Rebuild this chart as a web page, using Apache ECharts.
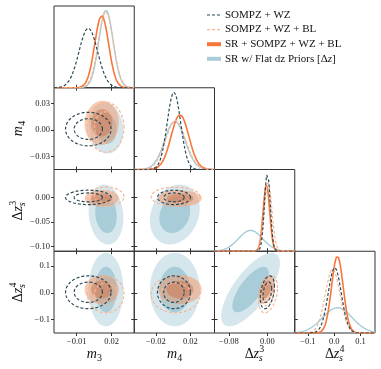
<!DOCTYPE html>
<html>
<head>
<meta charset="utf-8">
<script src="https://cdn.jsdelivr.net/npm/echarts@6/dist/echarts.min.js"></script>
<style>
  html, body { margin: 0; padding: 0; background: #fff; }
  #chart { width: 381px; height: 369px; }
</style>
</head>
<body>
<div id="chart"></div>
<script>
// parameters of the triangle, order: m3, m4, dz3, dz4
var paramMin = [-0.0295, -0.045, -0.11, -0.15];
var paramMax = [0.0395, 0.048, 0.057, 0.155];

// ticks when the parameter sits on an x axis (columns)
var xTicks = [[-0.01, 0.02], [-0.02, 0.02], [-0.08, 0.00], [-0.1, 0.0, 0.1]];
var xTickLabels = [['−0.01', '0.02'], ['−0.02', '0.02'], ['−0.08', '0.00'], ['−0.1', '0.0', '0.1']];
// ticks when the parameter sits on a y axis (rows)
var yTicks = [[], [-0.03, 0.00, 0.03], [-0.10, -0.05, 0.00], [-0.1, 0.0, 0.1]];
var yTickLabels = [[], ['−0.03', '0.00', '0.03'], ['−0.10', '−0.05', '0.00'], ['−0.1', '0.0', '0.1']];

// posterior summaries (mean, width, 1D peak height as part of the panel)
// correlations in pair order: m3-m4, m3-dz3, m3-dz4, m4-dz3, m4-dz4, dz3-dz4
var sompzMean = [0.0000, 0.0010, 0.0000, 0.002];
var sompzSd = [0.0080, 0.0078, 0.0060, 0.025];
var sompzPeak = [0.73, 0.945, 0.96, 0.80];
var sompzCorr = [0, 0, 0, 0, 0, 0.35];

var blMean = [0.0150, 0.0030, 0.0015, -0.006];
var blSd = [0.0064, 0.0116, 0.0080, 0.028];
var blPeak = [0.93, 0.60, 0.84, 0.78];
var blCorr = [0, 0, 0, 0, 0, 0.35];

var srMean = [0.0115, 0.0080, -0.0020, 0.012];
var srSd = [0.0060, 0.0103, 0.0068, 0.022];
var srPeak = [0.88, 0.67, 0.81, 0.94];
var srCorr = [0.05, 0, 0, 0, 0, 0.4];

var flatMean = [0.0152, 0.0020, -0.035, 0.012];
var flatSd = [0.0061, 0.0118, 0.025, 0.056];
var flatPeak = [0.95, 0.59, 0.256, 0.31];
var flatCorr = [-0.1, -0.12, 0, 0.2, 0, 0.72];

var FONT = '"Liberation Serif", "Times New Roman", serif';
var FRAME = '#333';
var GRID_LEFT = 54, GRID_TOP = 6, CELL_W = 80.25, CELL_H = 81.75;
var LEVELS = [2.448, 1.515]; // 95% and 68% 2D contours

// drawing order: flat fills, SR fills, BL dashed, SOMPZ dashed
var sources = [
  {mean: flatMean, sd: flatSd, peak: flatPeak, corr: flatCorr,
   fill: ['#d5e7ed', '#a8cdd8'], line: '#a5cdd9', width: 1.4, dash: null},
  {mean: srMean, sd: srSd, peak: srPeak, corr: srCorr,
   fill: ['rgba(240,150,105,0.5)', 'rgba(205,115,75,0.5)'], line: '#f7773a', width: 1.6, dash: null},
  {mean: blMean, sd: blSd, peak: blPeak, corr: blCorr,
   fill: null, line: '#f8b592', width: 1.2, dash: [3, 2]},
  {mean: sompzMean, sd: sompzSd, peak: sompzPeak, corr: sompzCorr,
   fill: null, line: '#2d4a57', width: 1.2, dash: [3, 2]}
];

function corrOf(c, i, j) {
  var pairs = [[0, 1], [0, 2], [0, 3], [1, 2], [1, 3], [2, 3]];
  for (var p = 0; p < pairs.length; p++) {
    if (pairs[p][0] === i && pairs[p][1] === j) return c[p];
  }
  return 0;
}

function labelFor(ticks, labels) {
  return function (v) {
    for (var t = 0; t < ticks.length; t++) {
      if (Math.abs(ticks[t] - v) < 1e-9) return labels[t];
    }
    return '';
  };
}

var grids = [], xAxes = [], yAxes = [], series = [];

function tickAxis(base, ticks, labels, showLabel) {
  base.axisLine = {show: false, onZero: false};
  base.splitLine = {show: false};
  base.axisTick = {show: ticks.length > 0, inside: false, length: 3, customValues: ticks,
                   lineStyle: {color: FRAME, width: 1}};
  base.axisLabel = {show: showLabel, customValues: ticks, formatter: labelFor(ticks, labels),
                    fontFamily: FONT, fontSize: 8.5, color: '#222', margin: 4};
  return base;
}

function ellipseRender(src, i, j, k, style) {
  return function (params, api) {
    var mx = api.value(0), my = api.value(1);
    var sx = src.sd[i], sy = src.sd[j], rho = corrOf(src.corr, i, j);
    var root = Math.sqrt(1 - rho * rho);
    var pts = [];
    for (var t = 0; t < 120; t++) {
      var a = t / 120 * 2 * Math.PI;
      pts.push(api.coord([mx + k * sx * Math.cos(a),
                          my + k * sy * (rho * Math.cos(a) + root * Math.sin(a))]));
    }
    return {type: 'polygon', shape: {points: pts}, style: style};
  };
}

for (var r = 0; r < 4; r++) {
  for (var c = 0; c <= r; c++) {
    var g = grids.length;
    grids.push({left: GRID_LEFT + c * CELL_W, top: GRID_TOP + r * CELL_H,
                width: CELL_W, height: CELL_H, show: true,
                borderColor: FRAME, borderWidth: 1, backgroundColor: 'transparent'});
    var xi = xAxes.length;
    xAxes.push(tickAxis({type: 'value', gridIndex: g, position: 'bottom',
                         min: paramMin[c], max: paramMax[c]}, xTicks[c], xTickLabels[c], r === 3));
    var yi = yAxes.length;
    if (c === r) {
      // 1D marginal
      yAxes.push({type: 'value', gridIndex: g, min: 0, max: 1, show: false});
      sources.forEach(function (src) {
        var pts = [];
        for (var s = 0; s <= 200; s++) {
          var x = paramMin[c] + (paramMax[c] - paramMin[c]) * s / 200;
          var z = (x - src.mean[c]) / src.sd[c];
          pts.push([x, src.peak[c] * Math.exp(-0.5 * z * z)]);
        }
        series.push({type: 'line', xAxisIndex: xi, yAxisIndex: yi, data: pts,
                     showSymbol: false, silent: true, clip: true,
                     lineStyle: {color: src.line, width: src.width, type: src.dash || 'solid'}});
      });
    } else {
      yAxes.push(tickAxis({type: 'value', gridIndex: g, position: 'left',
                           min: paramMin[r], max: paramMax[r]}, yTicks[r], yTickLabels[r], c === 0));
      xAxes.push(tickAxis({type: 'value', gridIndex: g, position: 'top',
                           min: paramMin[c], max: paramMax[c]}, xTicks[c], xTickLabels[c], false));
      yAxes.push(tickAxis({type: 'value', gridIndex: g, position: 'right',
                           min: paramMin[r], max: paramMax[r]}, yTicks[r], yTickLabels[r], false));
      sources.forEach(function (src) {
        LEVELS.forEach(function (k, li) {
          var style = src.fill
            ? {fill: src.fill[li], stroke: null}
            : {fill: 'none', stroke: src.line, lineWidth: src.width, lineDash: src.dash};
          series.push({type: 'custom', xAxisIndex: xi, yAxisIndex: yi, clip: true, silent: true,
                       data: [[src.mean[c], src.mean[r]]],
                       renderItem: ellipseRender(src, c, r, k, style)});
        });
      });
    }
  }
}

// axis names and legend as text
function mathName(big, sub, sup, cx, cy, rot) {
  var kids = [];
  var fBig = '14px ' + FONT, fIt = 'italic 14px ' + FONT, fSmall = 'italic 10px ' + FONT, fNum = '10px ' + FONT;
  if (big === 'm') {
    kids.push({type: 'text', x: -7.5, y: 0, style: {text: 'm', font: fIt, fill: '#111', textAlign: 'left', align: 'left', textVerticalAlign: 'middle', verticalAlign: 'middle'}});
    kids.push({type: 'text', x: 2.8, y: 4, style: {text: sub, font: fNum, fill: '#111', textAlign: 'left', align: 'left', textVerticalAlign: 'middle', verticalAlign: 'middle'}});
  } else {
    kids.push({type: 'text', x: -10, y: 0, style: {text: 'Δ', font: fBig, fill: '#111', textAlign: 'left', align: 'left', textVerticalAlign: 'middle', verticalAlign: 'middle'}});
    kids.push({type: 'text', x: -1.2, y: 0, style: {text: 'z', font: fIt, fill: '#111', textAlign: 'left', align: 'left', textVerticalAlign: 'middle', verticalAlign: 'middle'}});
    kids.push({type: 'text', x: 4.6, y: -5, style: {text: sup, font: fNum, fill: '#111', textAlign: 'left', align: 'left', textVerticalAlign: 'middle', verticalAlign: 'middle'}});
    kids.push({type: 'text', x: 4.2, y: 4.5, style: {text: sub, font: fSmall, fill: '#111', textAlign: 'left', align: 'left', textVerticalAlign: 'middle', verticalAlign: 'middle'}});
  }
  return {type: 'group', x: cx, y: cy, rotation: rot, children: kids};
}

var graphics = [];
var bottomY = GRID_TOP + 4 * CELL_H + 21;
graphics.push(mathName('m', '3', null, GRID_LEFT + 0.5 * CELL_W, bottomY, 0));
graphics.push(mathName('m', '4', null, GRID_LEFT + 1.5 * CELL_W, bottomY, 0));
graphics.push(mathName('dz', 's', '3', GRID_LEFT + 2.5 * CELL_W, bottomY, 0));
graphics.push(mathName('dz', 's', '4', GRID_LEFT + 3.5 * CELL_W, bottomY, 0));
graphics.push(mathName('m', '4', null, 18, GRID_TOP + 1.5 * CELL_H, Math.PI / 2));
graphics.push(mathName('dz', 's', '3', 18, GRID_TOP + 2.5 * CELL_H, Math.PI / 2));
graphics.push(mathName('dz', 's', '4', 18, GRID_TOP + 3.5 * CELL_H, Math.PI / 2));

var legendNames = ['SOMPZ + WZ', 'SOMPZ + WZ + BL', 'SR + SOMPZ + WZ + BL', 'SR w/ Flat dz Priors [Δ{i|z}]'];
var legendSrc = [sources[3], sources[2], sources[1], sources[0]];
legendNames.forEach(function (name, n) {
  var y = 15 + n * 14.6;
  var src = legendSrc[n];
  if (src.dash) {
    graphics.push({type: 'line', shape: {x1: 207, y1: y, x2: 221, y2: y},
                   style: {stroke: src.line, lineWidth: 1.2, lineDash: src.dash}});
  } else {
    graphics.push({type: 'rect', shape: {x: 207, y: y - 2, width: 14, height: 4},
                   style: {fill: n === 3 ? src.fill[1] : src.line}});
  }
  graphics.push({type: 'text', x: 225, y: y, style: {text: name, font: '11px ' + FONT, fill: '#111',
                 textVerticalAlign: 'middle', verticalAlign: 'middle',
                 rich: {i: {fontStyle: 'italic', fontSize: 11, fontFamily: FONT}}}});
});

var chart = echarts.init(document.getElementById('chart'));
chart.setOption({
  animation: false,
  backgroundColor: '#fff',
  grid: grids,
  xAxis: xAxes,
  yAxis: yAxes,
  series: series,
  graphic: graphics
});
</script>
</body>
</html>
